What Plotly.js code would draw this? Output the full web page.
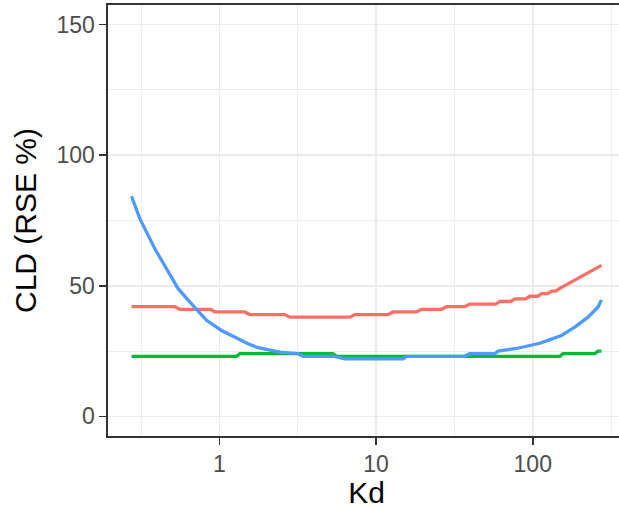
<!DOCTYPE html>
<html>
<head>
<meta charset="utf-8">
<script src="https://cdn.plot.ly/plotly-3.0.1.min.js"></script>
<style>
  html, body { margin: 0; padding: 0; overflow: hidden; background: #ffffff; }
  #chart { width: 640px; height: 509px; }
</style>
</head>
<body>
<div id="chart"></div>
<script>
// Series (Kd on a log axis, CLD RSE %)
const redKd   = [0.2743, 0.5186, 0.5579, 0.880, 0.933, 1.450, 1.561, 2.611, 2.811, 6.787, 7.306, 11.92, 12.83, 18.09, 19.48, 26.14, 28.12, 36.8, 39.6, 58.0, 61.6, 72.4, 76.8, 90.2, 95.7, 107.6, 114.1, 124.7, 132.2, 140.3, 148.8, 204.6, 274.5];
const redCLD  = [42, 42, 41, 41, 40, 40, 39, 39, 38, 38, 39, 39, 40, 40, 41, 41, 42, 42, 43, 43, 44, 44, 45, 45, 46, 46, 47, 47, 48, 48, 49, 53.6, 57.8];

const greenKd  = [0.2743, 1.284, 1.348, 5.288, 5.609, 148.8, 156.1, 248.8, 261.2, 274.5];
const greenCLD = [23, 23, 24, 24, 23, 23, 24, 24, 25, 25];

const blueKd  = [0.2743, 0.3099, 0.3864, 0.4588, 0.5441, 0.6628, 0.8260, 1.030, 1.314, 1.522, 1.764, 2.095, 2.427, 3.176, 3.418, 5.445, 6.308, 14.86, 15.62, 36.8, 39.6, 57.2, 60.1, 78.7, 93.3, 110.9, 131.6, 152.5, 185.4, 225.4, 261.2, 274.5];
const blueCLD = [84.3, 75.7, 64.2, 56.5, 48.9, 43.1, 36.8, 32.9, 29.7, 27.8, 26.3, 25.3, 24.6, 24, 23, 23, 22, 22, 23, 23, 24, 24, 25, 26, 27, 28, 29.6, 31, 34.2, 38, 41.9, 44.6];

const xTickVals = [1, 10, 100];
const xTickText = ["1", "10", "100"];
const xMinorVals = [0.3162, 3.162, 31.62, 316.2];
const yTickVals = [0, 50, 100, 150];
const yTickText = ["0", "50", "100", "150"];

const FONT = "Liberation Sans, Arial, Helvetica, sans-serif";

const traces = [
  {x: redKd, y: redCLD, type: "scatter", mode: "lines", line: {color: "#FC6F66", width: 3.3}, showlegend: false},
  {x: greenKd, y: greenCLD, type: "scatter", mode: "lines", line: {color: "#00BA38", width: 3.3}, showlegend: false},
  {x: blueKd, y: blueCLD, type: "scatter", mode: "lines", line: {color: "#4F9AFF", width: 3.3}, showlegend: false}
];

const layout = {
  width: 640, height: 509,
  margin: {l: 108, r: 15, t: 5, b: 73},
  paper_bgcolor: "#ffffff",
  plot_bgcolor: "#ffffff",
  font: {family: FONT, color: "#4d4d4d"},
  xaxis: {
    type: "log",
    range: [-0.712, 2.589],
    tickmode: "array", tickvals: xTickVals, ticktext: xTickText,
    ticks: "outside", ticklen: 7, tickwidth: 1.6, tickcolor: "#333333",
    tickfont: {family: FONT, size: 23, color: "#4d4d4d"},
    showgrid: true, gridcolor: "#ebebeb", gridwidth: 1.8,
    minor: {tickmode: "array", tickvals: xMinorVals, showgrid: true, gridcolor: "#ededed", gridwidth: 1, ticks: ""},
    showline: true, linecolor: "#333333", linewidth: 1.6, mirror: true,
    zeroline: false,
    title: {text: "Kd", font: {family: FONT, size: 30, color: "#000000"}, standoff: 6}
  },
  yaxis: {
    range: [-7.5, 157.5],
    tickmode: "array", tickvals: yTickVals, ticktext: yTickText,
    ticks: "outside", ticklen: 7, tickwidth: 1.6, tickcolor: "#333333",
    tickfont: {family: FONT, size: 23, color: "#4d4d4d"},
    showgrid: true, gridcolor: "#ebebeb", gridwidth: 1.8,
    minor: {tickmode: "array", tickvals: [25, 75, 125], showgrid: true, gridcolor: "#ededed", gridwidth: 1, ticks: ""},
    showline: true, linecolor: "#333333", linewidth: 1.6, mirror: true,
    zeroline: false,
    title: {text: "CLD (RSE %)", font: {family: FONT, size: 30, color: "#000000"}, standoff: 11}
  },
  showlegend: false
};

Plotly.newPlot("chart", traces, layout, {displayModeBar: false, staticPlot: true});
</script>
</body>
</html>
